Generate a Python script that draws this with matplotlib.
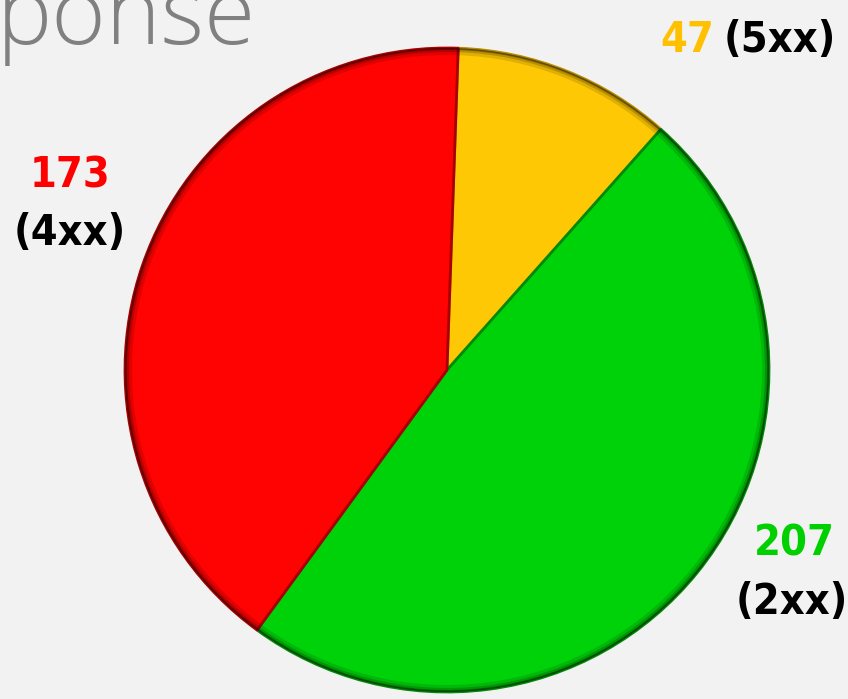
import matplotlib
matplotlib.use("Agg")
from matplotlib import pyplot as plt
from matplotlib.patches import Wedge

# 数据
counts = [47, 207, 173]
codes = ["5xx", "2xx", "4xx"]
colors = ["#ffc805", "#00d20a", "#ff0303"]
edge_colors = ["#b88c00", "#008a05", "#a80000"]
label_colors = ["#ffc000", "#00d000", "#ff0000"]

W, H = 848, 699
fig = plt.figure(figsize=(W / 100, H / 100), dpi=100)
fig.patch.set_facecolor("#f2f2f2")
ax = fig.add_axes([0, 0, 1, 1])
ax.set_facecolor("#f2f2f2")

# 饼图（y 轴向上，像素坐标）
cx, cy, r = 447, H - 370, 322
wedges, _ = ax.pie(counts, colors=colors, startangle=88, counterclock=False,
                   center=(cx, cy), radius=r, frame=True,
                   wedgeprops=dict(edgecolor="none"))
for w, ec in zip(wedges, edge_colors):
    # 外缘的暗边，模仿原图的立体效果
    for k, a in [(7, 0.12), (4, 0.18), (2, 0.25)]:
        ax.add_patch(Wedge((cx, cy), r, w.theta1, w.theta2, width=k,
                           facecolor="black", alpha=a, edgecolor="none"))
    w.set_edgecolor(ec)
    w.set_linewidth(2)
    w.set_joinstyle("round")

ax.set_xlim(0, W)
ax.set_ylim(0, H)
ax.set_aspect("equal")
ax.axis("off")

lab = dict(fontsize=31, fontweight="bold", family="DejaVu Sans", fontstretch="condensed")

# 标题（被截断的 "Response"）
ax.text(-3, H - 44, "ponse", fontsize=67, color="#808080", family=["Open Sans", "DejaVu Sans"],
        fontweight="light", ha="left", va="baseline")

# 标签
ax.text(714, H - 40, str(counts[0]), color=label_colors[0], ha="right", va="center", **lab)
ax.text(724, H - 40, f"({codes[0]})", color="black", ha="left", va="center", **lab)

ax.text(794, H - 543, str(counts[1]), color=label_colors[1], ha="center", va="center", **lab)
ax.text(792, H - 602, f"({codes[1]})", color="black", ha="center", va="center", **lab)

ax.text(70, H - 175, str(counts[2]), color=label_colors[2], ha="center", va="center", **lab)
ax.text(70, H - 233, f"({codes[2]})", color="black", ha="center", va="center", **lab)

plt.savefig("out.png", dpi=100, facecolor=fig.get_facecolor())
plt.close()
